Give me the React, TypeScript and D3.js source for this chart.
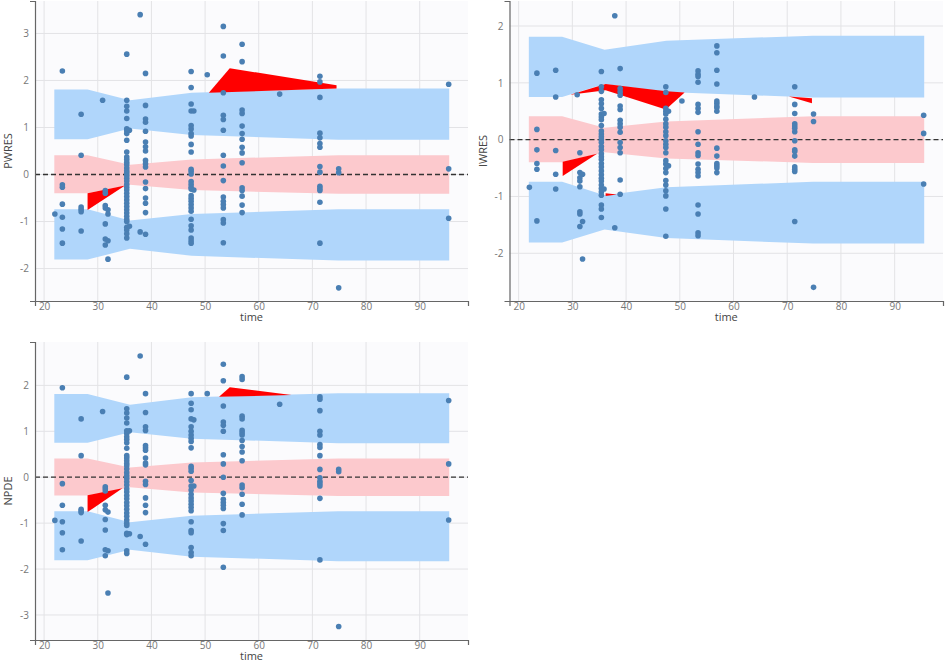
import { useEffect, useRef } from "react";
import * as d3 from "d3";

const W = 945;
const H = 663;

const timeDomain: [number, number] = [18.3, 99.0];
const timeTicks = [20, 30, 40, 50, 60, 70, 80, 90];

// prediction interval bands (same for the three residual types)
const bandTime = [21.9, 28.1, 36.0, 47.5, 74.8, 95.5];
const upperBandHi = [1.81, 1.81, 1.58, 1.74, 1.83, 1.83];
const upperBandLo = [0.75, 0.75, 0.98, 0.84, 0.74, 0.74];
const medianBandHi = [0.41, 0.41, 0.21, 0.32, 0.41, 0.41];
const medianBandLo = [-0.4, -0.4, -0.22, -0.33, -0.41, -0.41];
const lowerBandHi = [-0.74, -0.74, -0.98, -0.84, -0.74, -0.74];
const lowerBandLo = [-1.81, -1.81, -1.58, -1.73, -1.83, -1.83];

// observation times (columns of points)
const obsTimes = [22, 23.4, 26.9, 30.9, 31.4, 31.9, 35.4, 35.9, 37.9, 38.9, 47.4, 47.9, 50.4, 53.4, 56.9, 63.9, 71.4, 74.9, 95.4];

const pwresValues: number[][] = [
  [-0.84],
  [2.2, -0.22, -0.27, -0.63, -0.91, -1.16, -1.46],
  [1.28, 0.41, -0.69, -0.74, -0.79, -1.2],
  [1.58],
  [-0.34, -0.4, -0.66, -0.71, -1.05, -1.37, -1.5],
  [-0.75, -0.84, -1.41, -1.8],
  [2.56, 1.58, 1.45, 1.35, 1.19, 0.97, 0.93, 0.87, 0.73, 0.48, 0.37, 0.32, 0.26, 0.21, 0.14, 0.08, 0.03, -0.02, -0.08, -0.14, -0.21, -0.27, -0.33, -0.4, -0.47, -0.54, -0.61, -0.68, -0.75, -0.82, -0.89, -0.95, -1.0, -1.12, -1.18, -1.26, -1.35],
  [0.94, -1.1],
  [3.4, -1.22],
  [2.15, 1.47, 1.18, 1.11, 0.92, 0.69, 0.59, 0.5, 0.3, 0.23, 0.16, -0.16, -0.3, -0.5, -0.61, -0.81, -1.27],
  [2.19, 1.85, 1.5, 1.35, 1.04, 0.97, 0.87, 0.82, 0.64, 0.48, 0.11, 0.07, 0.01, -0.15, -0.21, -0.27, -0.31, -0.45, -0.51, -0.57, -0.64, -0.71, -0.78, -0.95, -1.09, -1.18, -1.35, -1.41, -1.46],
  [1.35, -0.33],
  [2.12],
  [3.15, 2.52, 1.74, 1.26, 1.17, 0.94, 0.41, 0.18, -0.13, -0.48, -0.57, -0.64, -0.71, -0.96, -1.03, -1.45],
  [2.77, 2.4, 1.37, 1.3, 1.03, 0.87, 0.75, 0.58, 0.46, 0.25, -0.28, -0.34, -0.46, -0.65, -0.81],
  [1.71],
  [2.09, 1.97, 1.64, 0.88, 0.78, 0.66, 0.58, 0.17, 0.05, -0.25, -0.3, -0.34, -0.59, -1.46],
  [0.12, 0.04, -2.41],
  [1.92, 0.12, -0.93],
];

const iwresValues: number[][] = [
  [-0.84],
  [1.17, 0.18, -0.18, -0.42, -0.52, -1.43],
  [1.22, 0.75, -0.19, -0.61, -0.87],
  [0.79],
  [-0.23, -0.58, -0.67, -0.73, -0.83, -1.27, -1.31, -1.53],
  [-0.61, -1.44, -2.1],
  [1.2, 0.93, 0.85, 0.7, 0.63, 0.55, 0.45, 0.4, 0.35, 0.25, 0.15, 0.1, 0.05, 0.0, -0.05, -0.12, -0.18, -0.25, -0.3, -0.35, -0.42, -0.48, -0.55, -0.62, -0.68, -0.73, -0.8, -0.86, -0.92, -0.98, -1.15, -1.22, -1.37],
  [0.46, -0.87],
  [2.18, -1.55],
  [1.25, 0.9, 0.84, 0.78, 0.59, 0.53, 0.34, 0.28, 0.22, 0.13, -0.05, -0.14, -0.23, -0.71, -0.96],
  [0.93, 0.83, 0.55, 0.5, 0.45, 0.36, 0.28, 0.22, 0.14, 0.07, -0.02, -0.08, -0.14, -0.23, -0.37, -0.43, -0.51, -0.58, -0.72, -0.8, -0.9, -0.99, -1.22, -1.7],
  [0.5, -0.46],
  [0.68],
  [1.21, 1.15, 1.11, 1.01, 0.62, 0.55, 0.48, 0.14, -0.08, -0.23, -0.28, -0.43, -0.52, -0.58, -0.64, -1.15, -1.31, -1.64, -1.69],
  [1.65, 1.53, 1.22, 0.98, 0.68, 0.64, 0.59, 0.56, 0.5, -0.15, -0.29, -0.42, -0.46, -0.5, -0.58],
  [0.75],
  [0.93, 0.62, 0.46, 0.28, 0.24, 0.2, 0.14, -0.02, -0.18, -0.21, -0.29, -0.48, -0.52, -0.56, -1.44],
  [0.45, 0.32, -2.6],
  [0.43, 0.11, -0.78],
];

const npdeValues: number[][] = [
  [-0.94],
  [1.95, -0.14, -0.61, -0.97, -1.21, -1.58],
  [1.27, 0.47, -0.7, -0.73, -0.77, -1.39],
  [1.43],
  [-0.21, -0.25, -0.3, -0.61, -0.71, -0.92, -1.15, -1.58, -1.71],
  [-0.76, -1.6, -2.52],
  [2.18, 1.49, 1.4, 1.29, 1.18, 1.01, 0.95, 0.88, 0.82, 0.75, 0.63, 0.47, 0.42, 0.36, 0.3, 0.25, 0.18, 0.1, 0.03, -0.03, -0.1, -0.17, -0.25, -0.32, -0.4, -0.47, -0.55, -0.62, -0.7, -0.78, -0.85, -0.93, -1.0, -1.05, -1.22, -1.25, -1.6, -1.66],
  [1.01, -1.23],
  [2.64, -1.29],
  [1.82, 1.41, 1.1, 1.02, 0.69, 0.64, 0.59, 0.42, 0.31, 0.27, -0.09, -0.16, -0.45, -0.61, -0.77, -1.46],
  [1.82, 1.61, 1.47, 1.27, 1.1, 1.0, 0.92, 0.85, 0.78, 0.64, 0.24, 0.19, 0.13, -0.07, -0.19, -0.28, -0.37, -0.45, -0.52, -0.59, -0.66, -0.73, -0.97, -1.16, -1.21, -1.53, -1.64, -1.71],
  [1.25, -0.19],
  [1.82],
  [2.46, 2.1, 1.55, 1.2, 1.13, 1.0, 0.49, 0.29, 0.0, -0.35, -0.48, -0.55, -0.61, -0.68, -1.01, -1.16, -1.96],
  [2.19, 2.13, 1.33, 1.27, 1.02, 0.97, 0.92, 0.8, 0.67, 0.55, 0.36, -0.17, -0.23, -0.37, -0.59, -0.82],
  [1.59],
  [1.75, 1.7, 1.45, 1.0, 0.92, 0.71, 0.65, 0.47, 0.17, -0.01, -0.09, -0.14, -0.19, -0.46, -1.8],
  [0.17, 0.12, -3.25],
  [1.67, 0.29, -0.93],
];

// areas where observed percentiles fall outside the prediction interval
const pwresOutside: [number, number][][] = [
  [[28.1, -0.4], [28.1, -0.755], [35.1, -0.235]],
  [[50.7, 1.74], [54.6, 2.26], [74.5, 1.9], [74.5, 1.83]],
];
const iwresOutside: [number, number][][] = [
  [[29.6, 0.79], [36.2, 0.98], [47.5, 0.85], [50.9, 0.83], [47.4, 0.53], [36.2, 0.87]],
  [[28.2, -0.39], [28.2, -0.64], [34.6, -0.25]],
  [[36.2, -0.945], [38.3, -0.965], [36.2, -0.99]],
  [[70.3, 0.76], [74.6, 0.73], [74.6, 0.64]],
];
const npdeOutside: [number, number][][] = [
  [[28.1, -0.39], [28.1, -0.76], [34.6, -0.24]],
  [[52.6, 1.75], [54.6, 1.96], [66.1, 1.79]],
];

type PanelSpec = {
  label: string;
  left: number;
  right: number;
  top: number;
  bottom: number;
  yDomain: [number, number];
  yTicks: number[];
  values: number[][];
  outside: [number, number][][];
};

const panels: PanelSpec[] = [
  { label: "PWRES", left: 35, right: 468, top: 1, bottom: 301, yDomain: [-2.69, 3.69], yTicks: [-2, -1, 0, 1, 2, 3], values: pwresValues, outside: pwresOutside },
  { label: "IWRES", left: 509.5, right: 943, top: 1, bottom: 301, yDomain: [-2.84, 2.44], yTicks: [-2, -1, 0, 1, 2], values: iwresValues, outside: iwresOutside },
  { label: "NPDE", left: 35, right: 468, top: 342, bottom: 640, yDomain: [-3.545, 2.945], yTicks: [-3, -2, -1, 0, 1, 2], values: npdeValues, outside: npdeOutside },
];

const font = "'Open Sans', sans-serif";

export default function App() {
  const svgRef = useRef<SVGSVGElement | null>(null);

  useEffect(() => {
    if (!svgRef.current) return;
    const svg = d3.select(svgRef.current);
    svg.selectAll("*").remove();

    panels.forEach((p) => {
      const x = d3.scaleLinear().domain(timeDomain).range([p.left, p.right]);
      const y = d3.scaleLinear().domain(p.yDomain).range([p.bottom, p.top]);
      const g = svg.append("g");

      g.append("rect")
        .attr("x", p.left)
        .attr("y", p.top)
        .attr("width", p.right - p.left)
        .attr("height", p.bottom - p.top)
        .attr("fill", "#fbfbfd");

      // grid
      g.selectAll(".vgrid")
        .data(timeTicks)
        .join("line")
        .attr("x1", (d) => x(d))
        .attr("x2", (d) => x(d))
        .attr("y1", p.top)
        .attr("y2", p.bottom)
        .attr("stroke", "#e3e3e6")
        .attr("stroke-width", 1);
      g.selectAll(".hgrid")
        .data(p.yTicks)
        .join("line")
        .attr("x1", p.left)
        .attr("x2", p.right)
        .attr("y1", (d) => y(d))
        .attr("y2", (d) => y(d))
        .attr("stroke", "#e3e3e6")
        .attr("stroke-width", 1);

      // bands
      const band = (hi: number[], lo: number[], color: string) => {
        const area = d3
          .area<number>()
          .x((_, i) => x(bandTime[i]))
          .y0((_, i) => y(lo[i]))
          .y1((_, i) => y(hi[i]));
        g.append("path").attr("d", area(hi) as string).attr("fill", color);
      };
      band(upperBandHi, upperBandLo, "#b0d6fb");
      band(medianBandHi, medianBandLo, "#fcc9cd");
      band(lowerBandHi, lowerBandLo, "#b0d6fb");

      // outside areas
      const poly = d3
        .line<[number, number]>()
        .x((d) => x(d[0]))
        .y((d) => y(d[1]));
      p.outside.forEach((pts) => {
        g.append("path").attr("d", (poly(pts) as string) + "Z").attr("fill", "#ff0000");
      });

      // zero line
      g.append("line")
        .attr("x1", p.left)
        .attr("x2", p.right)
        .attr("y1", y(0))
        .attr("y2", y(0))
        .attr("stroke", "#333")
        .attr("stroke-width", 1.3)
        .attr("stroke-dasharray", "5,3");

      // points
      const pts = p.values.flatMap((col, i) => col.map((v) => ({ t: obsTimes[i], v })));
      g.selectAll(".pt")
        .data(pts)
        .join("circle")
        .attr("cx", (d) => x(d.t))
        .attr("cy", (d) => y(d.v))
        .attr("r", 2.8)
        .attr("fill", "#4a7fb3");

      // axes
      const fmt = (d: d3.NumberValue) => String(d);
      const xAxis = g
        .append("g")
        .attr("transform", `translate(0,${p.bottom})`)
        .call(d3.axisBottom(x).tickValues(timeTicks).tickFormat(fmt).tickSizeInner(0).tickSizeOuter(5).tickPadding(2));
      const yAxis = g
        .append("g")
        .attr("transform", `translate(${p.left},0)`)
        .call(d3.axisLeft(y).tickValues(p.yTicks).tickFormat(fmt).tickSizeInner(0).tickSizeOuter(5).tickPadding(6));
      [xAxis, yAxis].forEach((a) => {
        a.select(".domain").attr("stroke", "#666").attr("stroke-width", 1.2);
        a.selectAll("text").attr("fill", "#777").attr("font-size", 10).attr("font-family", font);
      });

      g.append("text")
        .attr("x", (p.left + p.right) / 2)
        .attr("y", p.bottom + 20)
        .attr("text-anchor", "middle")
        .attr("font-size", 11)
        .attr("font-family", font)
        .attr("fill", "#444")
        .text("time");

      g.append("text")
        .attr("transform", `translate(${p.left - 23},${(p.top + p.bottom) / 2}) rotate(-90)`)
        .attr("text-anchor", "middle")
        .attr("font-size", 11)
        .attr("font-family", font)
        .attr("fill", "#444")
        .text(p.label);
    });
  }, []);

  return (
    <div style={{ position: "absolute", left: 0, top: 0, width: W, height: H, background: "#fff" }}>
      <svg ref={svgRef} width={W} height={H} viewBox={`0 0 ${W} ${H}`} style={{ display: "block" }}></svg>
    </div>
  );
}
